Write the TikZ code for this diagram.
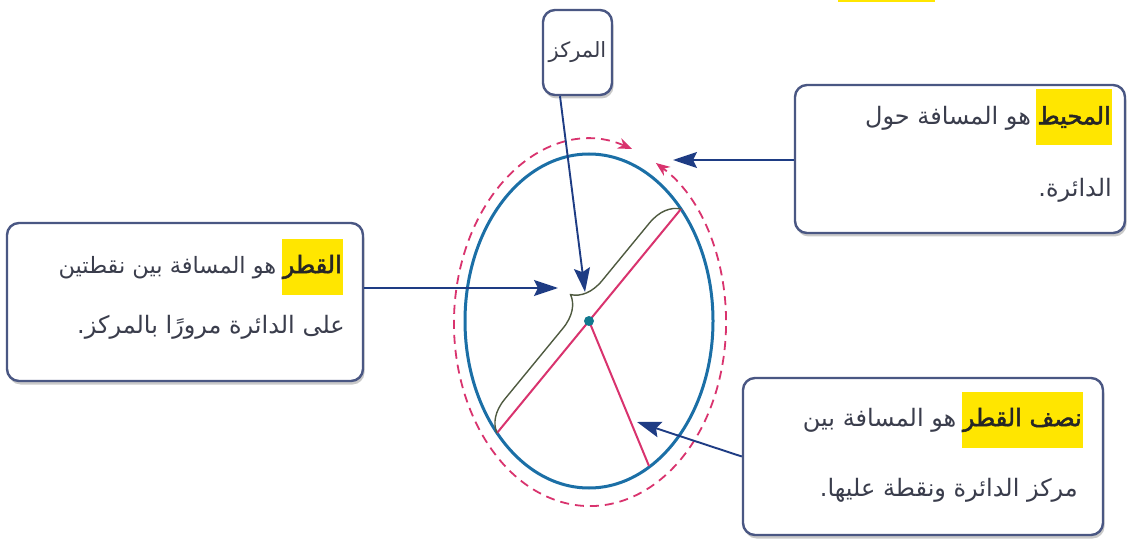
\documentclass[tikz,border=0pt]{standalone}
\usepackage{fontspec}
\usetikzlibrary{arrows.meta,decorations.pathreplacing,shadows}
\TeXXeTstate=1
\newfontfamily\arabicfont[Script=Arabic]{DejaVu Sans}
\newfontfamily\arabicbold[Script=Arabic,FakeBold=2]{DejaVu Sans}
\definecolor{boxborder}{HTML}{4A5783}
\definecolor{navy}{HTML}{1E3C84}
\definecolor{circblue}{HTML}{1B6FA6}
\definecolor{pinkline}{HTML}{D9336E}
\definecolor{dotteal}{HTML}{12798F}
\definecolor{bracecol}{HTML}{4F5A40}
\definecolor{txt}{HTML}{3A3D4C}
\definecolor{hl}{HTML}{FFE600}
\tikzset{
  infobox/.style={draw=boxborder, line width=2.4pt, rounded corners=12pt, fill=white,
    drop shadow={shadow xshift=1.5pt, shadow yshift=-3.5pt, opacity=0.35, fill=black!60}},
  artext/.style={font=\arabicfont\fontsize{24}{28}\selectfont, text=txt, inner sep=0pt, anchor=east},
  hlbox/.style={font=\arabicbold\fontsize{24}{28}\selectfont, text=black!85, fill=hl,
    inner xsep=1pt, inner ysep=0pt, minimum height=56pt, anchor=east},
  pointer/.style={draw=navy, line width=1.9pt, -{Stealth[length=24pt, width=16pt, inset=4pt]}},
  pinkstroke/.style={draw=pinkline, line width=2pt},
  pinktip/.tip={Stealth[length=14pt,width=11pt]},
}
\begin{document}
\begin{tikzpicture}[x=1pt,y=-1pt]
\fill[white] (0,0) rectangle (1129,553);
\useasboundingbox (0,0) rectangle (1129,553);
\fill[hl] (838,0) rectangle (935,2);

% circle figure
\coordinate (O) at (589,321);
\coordinate (D0) at (632,149);
\coordinate (D1) at (497,433);
\coordinate (D2) at (681,209);
\coordinate (R1) at (649,466);
\draw[circblue, line width=3pt] (O) ellipse [x radius=124pt, y radius=167pt];
\draw[pinkline, line width=1.8pt, dash pattern=on 9pt off 6pt, {pinktip}-{pinktip}]
  (D0) arc[start angle=72, end angle=421, x radius=136pt, y radius=183pt];
\draw[pinkstroke] (D1) -- (D2);
\draw[pinkstroke] (O) -- (R1);
\draw[bracecol, line width=1.4pt, decorate, decoration={brace, amplitude=31pt, aspect=0.53}] (D1) -- (D2);
\fill[dotteal] (O) circle[radius=5pt];

% boxes
\node[infobox, minimum width=69pt, minimum height=85pt] (boxC) at (577.5,52.5) {};
\node[infobox, minimum width=356pt, minimum height=158pt] (boxL) at (185,302) {};
\node[infobox, minimum width=330pt, minimum height=148pt] (boxR) at (960,159) {};
\node[infobox, minimum width=360pt, minimum height=157pt] (boxB) at (923,456.5) {};

% texts
\node[artext, anchor=center, font=\arabicfont\fontsize{21}{24}\selectfont] (tC) at (boxC) {\beginR المركز\endR};

\node[hlbox] (hL) at (343,267) {\beginR القطر\endR};
\node[artext, anchor=base east, font=\arabicfont\fontsize{22.5}{27}\selectfont] (tL1) at ([xshift=-5pt]hL.base west) {\beginR هو المسافة بين نقطتين\endR};
\node[artext] (tL2) at (345,327) {\beginR على الدائرة مرورًا بالمركز\kern0pt.\endR};

\node[hlbox] (hR) at (1112,117) {\beginR المحيط\endR};
\node[artext, anchor=base east] (tR1) at ([xshift=-5pt]hR.base west) {\beginR هو المسافة حول\endR};
\node[artext] (tR2) at (1112,190) {\beginR الدائرة\kern0pt.\endR};

\node[hlbox] (hB) at (1083,420) {\beginR نصف القطر\endR};
\node[artext, anchor=base east] (tB1) at ([xshift=-5pt]hB.base west) {\beginR هو المسافة بين\endR};
\node[artext] (tB2) at (1078,490) {\beginR مركز الدائرة ونقطة عليها\kern0pt.\endR};

% pointers
\coordinate (pC) at (585,292);
\coordinate (pL) at (558,288);
\coordinate (pR) at (673,160);
\coordinate (pB) at (637,422);
\draw[pointer] ([xshift=-17.5pt]boxC.south) -- (pC);
\draw[pointer] (boxL.east |- pL) -- (pL);
\draw[pointer] (boxR.west |- pR) -- (pR);
\draw[pointer] (boxB.west) -- (pB);
\end{tikzpicture}
\end{document}
